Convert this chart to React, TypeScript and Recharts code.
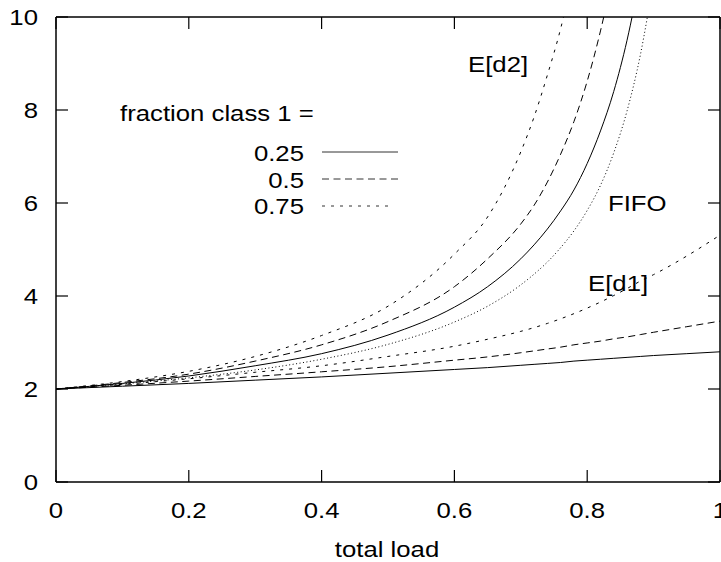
import { LineChart, Line, XAxis, YAxis } from "recharts";

// total load (x) grid, finer near the asymptotes
const loads = [0, 0.1, 0.2, 0.3, 0.4, 0.5, 0.6, 0.65, 0.7, 0.72, 0.74, 0.76, 0.78, 0.8, 0.82, 0.84, 0.86, 0.88, 0.9, 0.95, 1];

// E[d1] for fraction class 1 = 0.25 / 0.5 / 0.75
const d1Quarter = [2, 2.06, 2.12, 2.19, 2.26, 2.34, 2.42, 2.46, 2.51, 2.53, 2.55, 2.57, 2.6, 2.62, 2.64, 2.66, 2.68, 2.7, 2.72, 2.76, 2.8];
const d1Half = [2, 2.08, 2.17, 2.27, 2.37, 2.48, 2.62, 2.69, 2.78, 2.82, 2.86, 2.9, 2.95, 2.99, 3.03, 3.08, 3.12, 3.17, 3.22, 3.34, 3.46];
const d1ThreeQ = [2, 2.1, 2.22, 2.36, 2.5, 2.7, 2.92, 3.07, 3.24, 3.32, 3.41, 3.51, 3.62, 3.74, 3.87, 4.01, 4.16, 4.32, 4.46, 4.86, 5.31];

// FIFO
const fifo = [2, 2.11, 2.24, 2.41, 2.64, 2.96, 3.44, 3.78, 4.24, 4.47, 4.73, 5.04, 5.4, 5.84, 6.38, 7.08, 7.98, 9.18, 10.8, null, null];

// E[d2] for fraction class 1 = 0.25 / 0.5 / 0.75
const d2Quarter = [2, 2.12, 2.28, 2.5, 2.76, 3.16, 3.76, 4.2, 4.8, 5.1, 5.44, 5.83, 6.28, 6.85, 7.55, 8.4, 9.5, 10.9, null, null, null];
const d2Half = [2, 2.14, 2.32, 2.6, 2.95, 3.45, 4.2, 4.8, 5.55, 5.95, 6.45, 7.05, 7.75, 8.62, 9.7, 11.0, null, null, null, null, null];
const d2ThreeQ = [2, 2.16, 2.38, 2.7, 3.15, 3.78, 4.9, 5.7, 7.1, 7.85, 8.75, 9.75, 11.0, null, null, null, null, null, null, null, null];

const xTicks = [0, 0.2, 0.4, 0.6, 0.8, 1];
const yTicks = [0, 2, 4, 6, 8, 10];
const fractions = ["0.25", "0.5", "0.75"];

const data = loads.map((load, i) => ({
  load,
  d1Quarter: d1Quarter[i],
  d1Half: d1Half[i],
  d1ThreeQ: d1ThreeQ[i],
  fifo: fifo[i],
  d2Quarter: d2Quarter[i],
  d2Half: d2Half[i],
  d2ThreeQ: d2ThreeQ[i],
}));

const FONT = "'Liberation Sans', Arial, Helvetica, sans-serif";
const FS = 22;
const STRETCH = 1.17;

const SOLID = undefined;
const LONG = "7 4.5";
const SHORT = "3 6";
const DOTS = "1 2.5";

const styles = [SOLID, LONG, SHORT];

// stretched text, like the gnuplot postscript font
const Label = ({ x, y, anchor = "start", children }: any) => (
  <text
    transform={`translate(${x},${y}) scale(${STRETCH},1)`}
    textAnchor={anchor}
    fontSize={FS}
    fontFamily={FONT}
    fill="#000"
  >
    {children}
  </text>
);

const XTick = ({ x, y, payload }: any) => (
  <text
    transform={`translate(${x},${y}) scale(${STRETCH},1)`}
    textAnchor="middle"
    dy="0.71em"
    fontSize={FS}
    fontFamily={FONT}
    fill="#000"
  >
    {String(payload.value)}
  </text>
);

const YTick = ({ x, y, payload }: any) => (
  <text
    transform={`translate(${x},${y}) scale(${STRETCH},1)`}
    textAnchor="end"
    dy="0.36em"
    fontSize={FS}
    fontFamily={FONT}
    fill="#000"
  >
    {String(payload.value)}
  </text>
);

const NoTick = () => <g />;

const axisLine = { stroke: "#000", strokeWidth: 1.5 };
const tickLine = { stroke: "#000", strokeWidth: 1.2 };

export default function App() {
  return (
    <div style={{ position: "absolute", left: 0, top: 0, width: 721, height: 562, background: "#fff" }}>
      <LineChart width={721} height={562} data={data} margin={{ top: 16, right: 0, bottom: 0, left: 0 }}>
        <XAxis
          xAxisId="x"
          dataKey="load"
          type="number"
          domain={[0, 1]}
          ticks={xTicks}
          height={80}
          tickSize={-12}
          tickMargin={32}
          axisLine={axisLine}
          tickLine={tickLine}
          tick={<XTick />}
          interval={0}
        />
        <XAxis
          xAxisId="xt"
          dataKey="load"
          type="number"
          orientation="top"
          domain={[0, 1]}
          ticks={xTicks}
          height={1}
          tickSize={-12}
          axisLine={axisLine}
          tickLine={tickLine}
          tick={<NoTick />}
          interval={0}
        />
        <YAxis
          yAxisId="y"
          type="number"
          domain={[0, 10]}
          ticks={yTicks}
          allowDataOverflow
          width={56}
          tickSize={-12}
          tickMargin={30}
          axisLine={axisLine}
          tickLine={tickLine}
          tick={<YTick />}
          interval={0}
        />
        <YAxis
          yAxisId="yr"
          type="number"
          orientation="right"
          domain={[0, 10]}
          ticks={yTicks}
          allowDataOverflow
          width={1}
          tickSize={-12}
          axisLine={axisLine}
          tickLine={tickLine}
          tick={<NoTick />}
          interval={0}
        />
        {["d1Quarter", "d1Half", "d1ThreeQ"].map((k, i) => (
          <Line key={k} xAxisId="x" yAxisId="y" type="monotone" dataKey={k} stroke="#000" strokeWidth={1}
            strokeDasharray={styles[i]} dot={false} activeDot={false} isAnimationActive={false} />
        ))}
        <Line xAxisId="x" yAxisId="y" type="monotone" dataKey="fifo" stroke="#000" strokeWidth={1}
          strokeDasharray={DOTS} dot={false} activeDot={false} isAnimationActive={false} />
        {["d2Quarter", "d2Half", "d2ThreeQ"].map((k, i) => (
          <Line key={k} xAxisId="x" yAxisId="y" type="monotone" dataKey={k} stroke="#000" strokeWidth={1}
            strokeDasharray={styles[i]} dot={false} activeDot={false} isAnimationActive={false} />
        ))}
      </LineChart>
      <svg width={721} height={562} style={{ position: "absolute", left: 0, top: 0, pointerEvents: "none" }}>
        <Label x={468} y={72}>E[d2]</Label>
        <Label x={120} y={121}>fraction class 1 =</Label>
        {fractions.map((f, i) => (
          <g key={f}>
            <Label x={304} y={161 + i * 26.5} anchor="end">{f}</Label>
            <line x1={322} x2={i === 2 ? 392 : 398} y1={152 + i * 27} y2={152 + i * 27}
              stroke="#333" strokeWidth={1} strokeDasharray={styles[i]} />
          </g>
        ))}
        <Label x={608} y={211}>FIFO</Label>
        <Label x={588} y={291}>E[d1]</Label>
        <Label x={387} y={557} anchor="middle">total load</Label>
      </svg>
    </div>
  );
}
